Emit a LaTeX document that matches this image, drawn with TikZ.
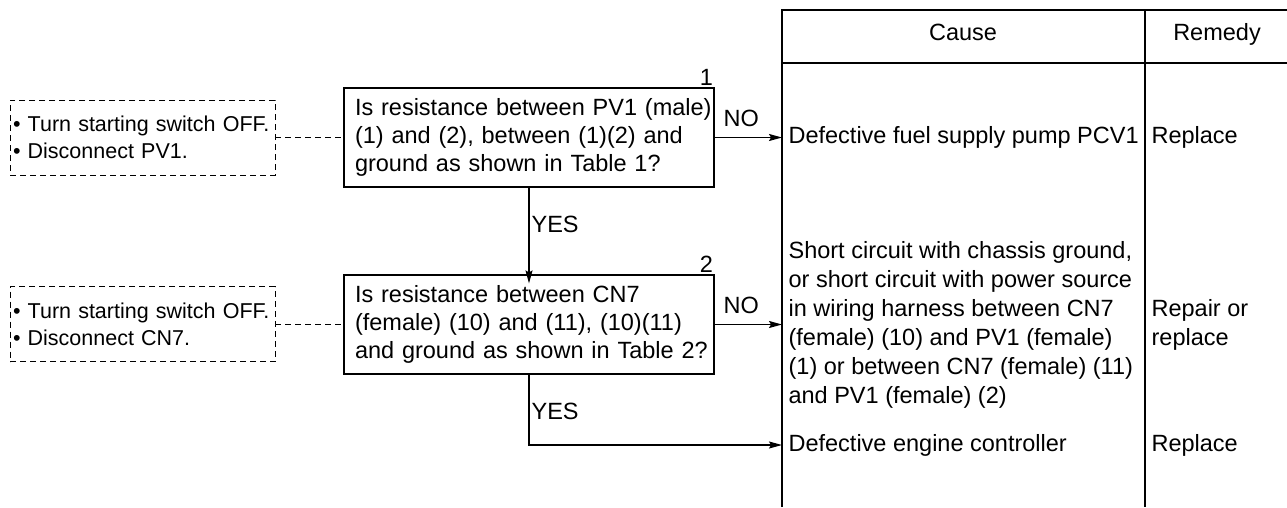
\documentclass[tikz,border=0pt]{standalone}
\usepackage{fontspec}
\setmainfont{Liberation Sans}
\usetikzlibrary{arrows.meta}
\newcommand{\qi}{\hspace*{11pt}}
\newcommand{\di}{\hspace*{3pt}}
\begin{document}
\begin{tikzpicture}[x=1pt,y=-1pt,line width=1.2pt,
  every node/.style={font=\fontsize{23.5}{28}\selectfont},
  qbox/.style={draw,minimum width=370pt,minimum height=99pt,text width=370pt,align=left,inner xsep=0pt,inner ysep=0pt},
  dash style/.style={dash pattern=on 6pt off 4pt,line width=0.9pt},
  dbox/.style={draw,dash style,minimum width=265pt,minimum height=75pt,text width=265pt,align=left,inner sep=0pt,font=\fontsize{21.5}{27}\selectfont},
  cell/.style={anchor=west,inner xsep=6pt,inner ysep=0pt,align=left},
  lbl/.style={anchor=west,inner sep=2pt},
  arr/.style={-{Stealth[length=13pt,width=7pt,inset=2pt]}}]
\useasboundingbox (0,0) rectangle (1287,507);
% table
\draw (782,507) -- (782,10) -- (1287,10);
\draw (782,63) -- (1287,63);
\draw (1145,10) -- (1145,507);
\node[anchor=base] (hc) at (963,40) {Cause};
\node[anchor=base] (hr) at (1217,40) {Remedy};
% question boxes
\node[qbox] (b1) at (529,137.5) {\qi Is resistance between PV1 (male)\\\qi (1) and (2), between (1)(2) and\\\qi ground as shown in Table 1?};
\node[qbox] (b2) at (529,324.5) {\qi Is resistance between CN7\\\qi (female) (10) and (11), (10)(11)\\\qi and ground as shown in Table 2?};
\node[anchor=south east,inner sep=1pt] (n1) at (b1.north east) {1};
\node[anchor=south east,inner sep=1pt] (n2) at (b2.north east) {2};
% dashed boxes
\node[dbox] (d1) at (142.5,137.5) {\di • Turn starting switch OFF.\\\di • Disconnect PV1.};
\node[dbox] (d2) at (142.5,324) {\di • Turn starting switch OFF.\\\di • Disconnect CN7.};
\draw[dash style] (d1.east) -- (b1.west);
\draw[dash style] (d2.east |- b2.west) -- (b2.west);
% causes and remedies
\node[cell] (c1) at (782,137.5) {Defective fuel supply pump PCV1};
\node[cell] (r1) at (1145,137.5) {Replace};
\node[cell,font=\fontsize{23.5}{29}\selectfont] (c2) at (782,324.5) {Short circuit with chassis ground,\\or short circuit with power source\\in wiring harness between CN7\\(female) (10) and PV1 (female)\\(1) or between CN7 (female) (11)\\and PV1 (female) (2)};
\node[cell,font=\fontsize{23.5}{29}\selectfont] (r2) at (1145,324.5) {Repair or\\replace};
\node[cell] (c3) at (782,445) {Defective engine controller};
\node[cell] (r3) at (1145,445) {Replace};
% connectors
\draw[arr] (b1.east) -- (c1.west);
\draw[arr] (b2.east) -- (c2.west);
\draw[arr] (b1.south) -- ([yshift=-9pt]b2.north);
\draw[arr] (b2.south) |- (c3.west);
\node[lbl] (no1) at (721,118) {NO};
\node[lbl] (no2) at (721,305) {NO};
\node[lbl] (y1) at (529,224) {YES};
\node[lbl] (y2) at (529,411) {YES};
\end{tikzpicture}
\end{document}
